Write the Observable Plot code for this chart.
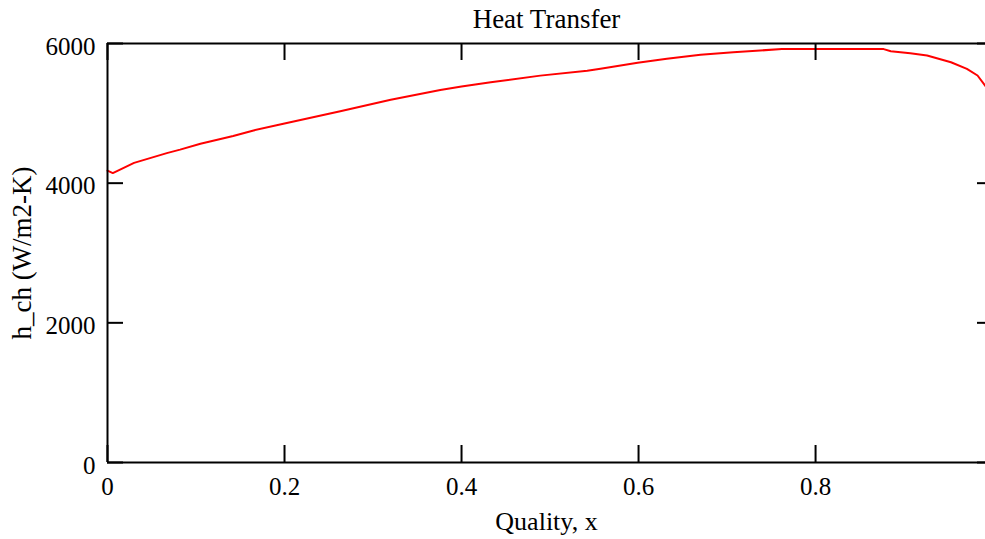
<!DOCTYPE html>
<html>
<head>
<meta charset="utf-8">
<script src="https://cdn.jsdelivr.net/npm/d3@7"></script>
<script src="https://cdn.jsdelivr.net/npm/@observablehq/plot@0.6"></script>
<style>
  html, body { margin: 0; padding: 0; background: #fff; overflow: hidden; }
</style>
</head>
<body>
<div id="chart"></div>
<script>
const title = "Heat Transfer";
const xLabel = "Quality, x";
const yLabel = "h_ch (W/m2-K)";
const xTicks = [0, 0.2, 0.4, 0.6, 0.8];
const yTicks = [0, 2000, 4000, 6000];
const quality = [0, 0.006, 0.030, 0.067, 0.082, 0.105, 0.142, 0.165, 0.2, 0.263, 0.320, 0.376, 0.4, 0.433, 0.489, 0.542, 0.557, 0.599, 0.632, 0.670, 0.707, 0.762, 0.820, 0.877, 0.885, 0.907, 0.926, 0.953, 0.971, 0.983, 0.992];
const hch = [4180, 4145, 4290, 4430, 4480, 4565, 4675, 4755, 4855, 5030, 5195, 5335, 5385, 5445, 5540, 5610, 5640, 5725, 5780, 5838, 5875, 5920, 5920, 5920, 5890, 5860, 5828, 5732, 5637, 5542, 5390];

const data = quality.map((x, i) => ({x, y: hch[i]}));

const W = 985, H = 539, mL = 107, mR = 0, mT = 43, mB = 77;
const pw = W - mL - mR, ph = H - mT - mB;
const font = "'Liberation Serif', 'Times New Roman', serif";
const fs = 25;

const chart = Plot.plot({
  width: W, height: H,
  marginLeft: mL, marginRight: mR, marginTop: mT, marginBottom: mB,
  x: {domain: [0, 0.992], axis: null},
  y: {domain: [0, 6000], axis: null},
  style: {fontFamily: font, fontSize: fs + "px", background: "white", color: "black", overflow: "visible"},
  marks: [
    Plot.line(data, {x: "x", y: "y", stroke: "#ff0000", strokeWidth: 2}),
    Plot.ruleX([0], {stroke: "black", strokeWidth: 2}),
    Plot.ruleY([0], {stroke: "black", strokeWidth: 2}),
    Plot.ruleY([6000], {stroke: "black", strokeWidth: 2}),
    Plot.tickY(yTicks, {y: d => d, stroke: "black", strokeWidth: 2, insetRight: pw - 16}),
    Plot.tickY(yTicks, {y: d => d, stroke: "black", strokeWidth: 2, insetLeft: pw - 8}),
    Plot.tickX(xTicks, {x: d => d, stroke: "black", strokeWidth: 2, insetBottom: ph - 17}),
    Plot.tickX(xTicks, {x: d => d, stroke: "black", strokeWidth: 2, insetTop: ph - 17}),
    Plot.text(xTicks, {x: d => d, text: d => String(d), frameAnchor: "bottom", lineAnchor: "middle", dy: 24, fill: "black", fontSize: fs}),
    Plot.text(yTicks, {y: d => d, text: d => String(d), frameAnchor: "left", lineAnchor: "middle", dx: -12, dy: 3, textAnchor: "end", fill: "black", fontSize: fs}),
    Plot.text([title], {frameAnchor: "top", lineAnchor: "middle", textAnchor: "middle", dy: -24, fill: "black", fontSize: 27}),
    Plot.text([xLabel], {frameAnchor: "bottom", lineAnchor: "middle", textAnchor: "middle", dy: 59, fill: "black", fontSize: 26}),
    Plot.text([yLabel], {frameAnchor: "left", lineAnchor: "middle", textAnchor: "middle", dx: -85, rotate: -90, fill: "black", fontSize: 27})
  ]
});
document.getElementById("chart").appendChild(chart);
</script>
</body>
</html>
